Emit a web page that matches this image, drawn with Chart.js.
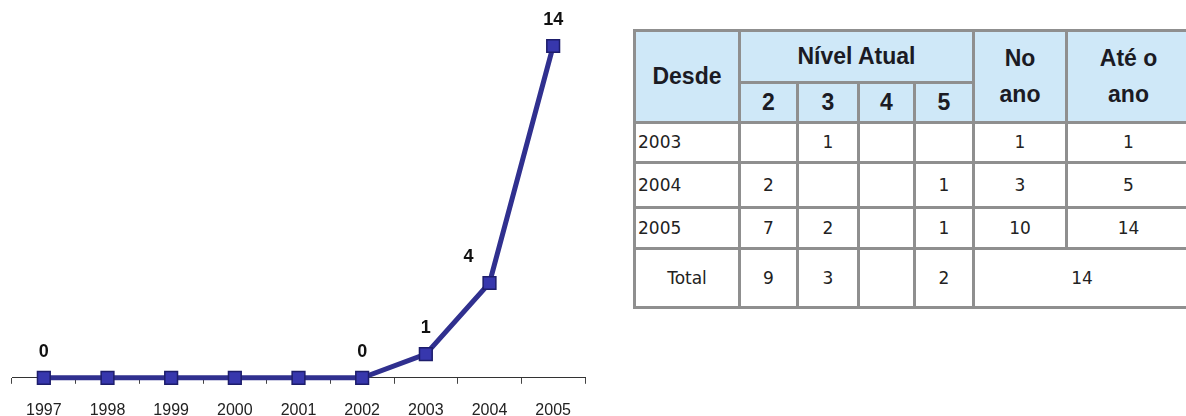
<!DOCTYPE html>
<html>
<head>
<meta charset="utf-8">
<script src="https://cdn.jsdelivr.net/npm/chart.js@4/dist/chart.umd.min.js"></script>
<style>
  html, body { margin: 0; padding: 0; background: #fff; width: 1186px; height: 416px; overflow: hidden; position: relative; }
  #chartBox { position: absolute; left: 0; top: 0; width: 600px; height: 437px; }
  #tabela {
    position: absolute; left: 633px; top: 29px; width: 556px;
    border-collapse: collapse; table-layout: fixed;
    font-family: "DejaVu Sans", sans-serif; font-size: 17px; color: #222;
  }
  #tabela td, #tabela th { border: 3px solid #8f8f8f; padding: 0; text-align: center; }
  #tabela th {
    background: #cfe8f8; color: #1b1b24;
    font-family: "Liberation Sans", Arial, sans-serif; font-weight: bold; font-size: 23px;
    line-height: 1.6;
  }
  #tabela td.ano { text-align: left; padding-left: 2px; }
</style>
</head>
<body>
<div id="chartBox"><canvas id="evolucaoChart" width="600" height="437"></canvas></div>
<table id="tabela">
  <colgroup>
    <col style="width:105px"><col style="width:58px"><col style="width:61px"><col style="width:56px">
    <col style="width:59px"><col style="width:93px"><col style="width:124px">
  </colgroup>
  <thead>
    <tr style="height:52px">
      <th rowspan="2">Desde</th>
      <th colspan="4">Nível Atual</th>
      <th rowspan="2">No<br>ano</th>
      <th rowspan="2">Até o<br>ano</th>
    </tr>
    <tr style="height:37px" id="nivelHead"></tr>
  </thead>
  <tbody id="tabelaBody"></tbody>
</table>

<script>
// grafico
const anos = ['1997', '1998', '1999', '2000', '2001', '2002', '2003', '2004', '2005'];
const acumulado = [0, 0, 0, 0, 0, 0, 1, 4, 14];
const anosComRotulo = ['1997', '2002', '2003', '2004', '2005'];

// tabela
const niveis = ['2', '3', '4', '5'];
const desde = ['2003', '2004', '2005'];
const nivel2 = ['', '2', '7'];
const nivel3 = ['1', '', '2'];
const nivel4 = ['', '', ''];
const nivel5 = ['', '1', '1'];
const noAno = ['1', '3', '10'];
const ateOAno = ['1', '5', '14'];
const totalNiveis = ['9', '3', '', '2'];
const totalGeral = '14';
const alturasLinhas = [40, 45, 41];

const nivelHead = document.getElementById('nivelHead');
niveis.forEach(n => {
    const th = document.createElement('th');
    th.textContent = n;
    nivelHead.appendChild(th);
});

const tabelaBody = document.getElementById('tabelaBody');
desde.forEach((ano, i) => {
    const tr = document.createElement('tr');
    tr.style.height = alturasLinhas[i] + 'px';
    const cells = [ano, nivel2[i], nivel3[i], nivel4[i], nivel5[i], noAno[i], ateOAno[i]];
    cells.forEach((v, j) => {
        const td = document.createElement('td');
        td.textContent = v;
        if (j === 0) td.className = 'ano';
        tr.appendChild(td);
    });
    tabelaBody.appendChild(tr);
});
const trTotal = document.createElement('tr');
trTotal.style.height = '59px';
let html = '<td>Total</td>';
totalNiveis.forEach(v => { html += '<td>' + v + '</td>'; });
html += '<td colspan="2">' + totalGeral + '</td>';
trTotal.innerHTML = html;
tabelaBody.appendChild(trTotal);

// rotulos em cima dos pontos
const rotulosPlugin = {
    id: 'rotulos',
    afterDatasetsDraw(chart) {
        const c = chart.ctx;
        const meta = chart.getDatasetMeta(0);
        c.save();
        c.font = 'bold 18px "Liberation Sans", Arial, sans-serif';
        c.fillStyle = '#111';
        c.textAlign = 'center';
        c.textBaseline = 'middle';
        meta.data.forEach((pt, i) => {
            if (!anosComRotulo.includes(anos[i])) return;
            let dx = 0;
            if (anos[i] === '2004') dx = -21;
            c.fillText(String(acumulado[i]), pt.x + dx, pt.y - 26);
        });
        c.restore();
    }
};

const ctx = document.getElementById('evolucaoChart').getContext('2d');
const evolucaoChart = new Chart(ctx, {
    type: 'line',
    data: {
        labels: anos,
        datasets: [{
            data: acumulado,
            borderColor: '#30308f',
            borderWidth: 5,
            backgroundColor: '#3737ad',
            pointStyle: 'rect',
            pointRadius: 9,
            pointBorderColor: '#1d1d6b',
            pointBorderWidth: 1.5,
            pointBackgroundColor: '#3737ad',
            tension: 0,
            clip: false
        }]
    },
    options: {
        responsive: false,
        animation: false,
        devicePixelRatio: 1,
        layout: { padding: { left: 12, right: 15, top: 46, bottom: 0 } },
        plugins: {
            legend: { display: false },
            tooltip: { enabled: false }
        },
        scales: {
            x: {
                offset: true,
                grid: {
                    offset: true,
                    drawOnChartArea: false,
                    drawTicks: true,
                    tickLength: 6,
                    color: '#444'
                },
                border: { display: true, color: '#333', width: 1 },
                ticks: {
                    padding: 17,
                    color: '#222',
                    font: { family: '"Liberation Sans", Arial, sans-serif', size: 16 },
                    maxRotation: 0
                }
            },
            y: {
                display: false,
                min: 0,
                max: 14
            }
        }
    },
    plugins: [rotulosPlugin]
});
</script>
</body>
</html>
